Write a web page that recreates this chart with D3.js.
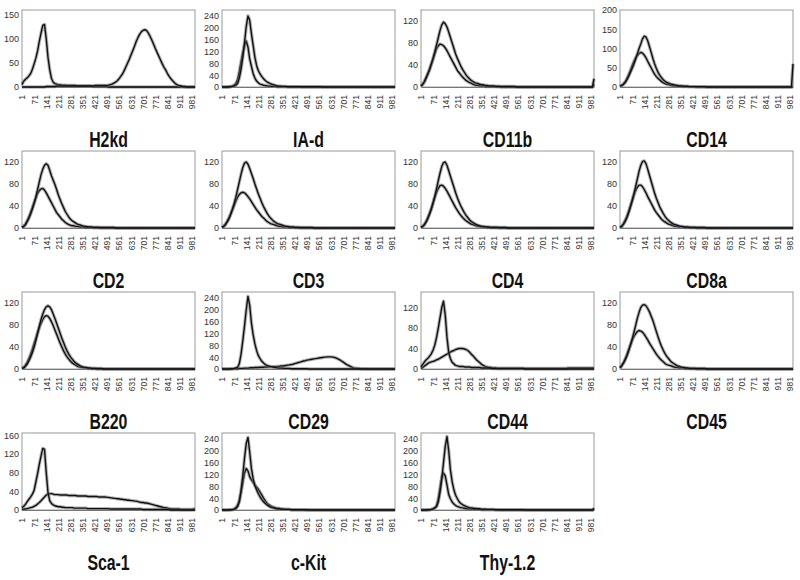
<!DOCTYPE html>
<html><head><meta charset="utf-8">
<script src="https://cdn.jsdelivr.net/npm/d3@7"></script>
<style>body{margin:0;background:#fff}</style>
</head><body><svg id="c" width="800" height="580"></svg>
<script>
const channels = [1,11,21,31,41,51,61,71,81,91,101,111,121,131,141,151,161,171,181,191,201,211,221,231,241,251,261,271,281,291,301,311,321,331,341,351,361,371,381,391,401,411,421,431,441,451,461,471,481,491,501,511,521,531,541,551,561,571,581,591,601,611,621,631,641,651,661,671,681,691,701,711,721,731,741,751,761,771,781,791,801,811,821,831,841,851,861,871,881,891,901,911,921,931,941,951,961,971,981,991,1000];
const xTickValues = [1,71,141,211,281,351,421,491,561,631,701,771,841,911,981];
const panelNames = ["H2kd","IA-d","CD11b","CD14","CD2","CD3","CD4","CD8a","B220","CD29","CD44","CD45","Sca-1","c-Kit","Thy-1.2"];
const yMaxes = [160,260,140,200,140,140,140,140,140,260,150,140,165,260,260];
const yTickSets = [
  [0,50,100,150],[0,40,80,120,160,200,240],[0,40,80,120],[0,50,100,150,200],
  [0,40,80,120],[0,40,80,120],[0,40,80,120],[0,40,80,120],
  [0,40,80,120],[0,40,80,120,160,200,240],[0,40,80,120],[0,40,80,120],
  [0,40,80,120,160],[0,40,80,120,160,200,240],[0,40,80,120,160,200,240]
];

const h2kdNeg = [5,12,16,19,23,28,37,48,60,75, 95,112,128,130,100,62,36,18,10,7, 6,5,5,4,4,4,3,3,3,3, 3,3,2,2,2,2,2,2,2,2, 2,1,1,1,1,1,1,1,1,1, 0,0,0,0,0,0,0,0,0,0, 0,0,0,0,0,0,0,0,0,0, 0,0,0,0,0,0,0,0,0,0, 0,0,0,0,0,0,0,0,0,0, 0,0,0,0,0,0,0,0,0,0, 0];
const h2kdPos = [0,0,0,0,0,0,0,0,0,0, 0,0,0,0,1,1,1,1,1,1, 2,2,2,2,2,2,2,2,2,2, 2,2,2,2,2,2,2,2,2,2, 2,2,3,3,3,3,3,3,3,3, 4,5,6,8,10,13,17,22,27,34, 42,50,58,67,76,85,95,103,110,115, 118,119,117,112,105,97,89,80,72,64, 56,48,41,35,28,22,17,13,9,6, 4,3,2,1,1,0,0,0,0,0, 0];
const iadTall = [0,0,0,0,1,1,2,3,6,12, 30,60,100,150,205,240,225,180,140,100, 72,55,44,35,28,22,17,14,11,9, 7,5,4,3,3,2,2,2,1,1, 1,1,1,1,1,1,1,1,1,1, 1,1,1,1,1,1,1,1,0,0, 0,0,0,0,0,0,0,0,0,0, 0,0,0,0,0,0,0,0,0,0, 0,0,0,0,0,0,0,0,0,0, 0,0,0,0,0,0,0,0,0,0, 0];
const iadShort = [0,0,0,0,1,2,3,6,12,25, 52,85,115,140,155,135,95,70,45,30, 20,14,10,8,6,5,4,3,3,2, 2,2,1,1,1,1,1,1,1,1, 1,1,1,1,1,1,0,0,0,0, 0,0,0,0,0,0,0,0,0,0, 0,0,0,0,0,0,0,0,0,0, 0,0,0,0,0,0,0,0,0,0, 0,0,0,0,0,0,0,0,0,0, 0,0,0,0,0,0,0,0,0,0, 0];
const cd11bTall = [2,5,10,17,24,32,42,52,64,77, 90,103,113,118,115,109,100,90,80,70, 60,52,45,38,32,27,22,18,15,12, 10,8,7,6,5,4,4,3,3,2, 2,2,2,1,1,1,1,1,1,1, 1,1,1,1,1,0,0,0,0,0, 0,0,0,0,0,0,0,0,0,0, 0,0,0,0,0,0,0,0,0,0, 0,0,0,0,0,0,0,0,0,0, 0,0,0,0,0,0,0,0,0,0, 15];
const cd11bShort = [2,5,10,17,25,33,42,52,61,70, 75,78,77,75,71,66,60,54,48,42, 36,30,26,22,18,15,12,10,8,7, 5,4,3,3,2,2,2,1,1,1, 1,1,1,1,1,1,0,0,0,0, 0,0,0,0,0,0,0,0,0,0, 0,0,0,0,0,0,0,0,0,0, 0,0,0,0,0,0,0,0,0,0, 0,0,0,0,0,0,0,0,0,0, 0,0,0,0,0,0,0,0,0,0, 5];
const cd14Tall = [2,4,7,12,19,28,38,48,59,72, 86,100,112,125,132,130,120,105,90,74, 60,48,38,30,24,19,15,12,10,8, 7,6,5,4,3,3,3,2,2,2, 1,1,1,1,1,1,1,1,1,1, 0,0,0,0,0,0,0,0,0,0, 0,0,0,0,0,0,0,0,0,0, 0,0,0,0,0,0,0,0,0,0, 0,0,0,0,0,0,0,0,0,0, 0,0,0,0,0,0,0,0,0,0, 60];
const cd14Short = [2,4,8,13,22,32,43,55,66,75, 82,87,90,88,83,76,67,58,50,41, 33,27,22,18,14,11,9,7,6,5, 4,3,3,2,2,2,1,1,1,1, 1,1,1,1,0,0,0,0,0,0, 0,0,0,0,0,0,0,0,0,0, 0,0,0,0,0,0,0,0,0,0, 0,0,0,0,0,0,0,0,0,0, 0,0,0,0,0,0,0,0,0,0, 0,0,0,0,0,0,0,0,0,0, 0];
const cd2Tall = [1,3,6,12,18,26,35,45,56,70, 84,97,107,114,117,114,105,95,87,79, 70,60,52,44,37,30,25,20,16,13, 11,9,7,6,5,4,3,3,2,2, 2,1,1,1,1,1,1,1,1,1, 1,1,1,1,0,0,0,0,0,0, 0,0,0,0,0,0,0,0,0,0, 0,0,0,0,0,0,0,0,0,0, 0,0,0,0,0,0,0,0,0,0, 0,0,0,0,0,0,0,0,0,0, 0];
const cd2Short = [1,3,7,13,20,28,37,46,55,63, 68,71,72,69,64,58,52,46,40,34, 28,24,20,16,13,10,8,6,5,4, 4,3,3,2,2,2,1,1,1,1, 1,1,1,1,1,0,0,0,0,0, 0,0,0,0,0,0,0,0,0,0, 0,0,0,0,0,0,0,0,0,0, 0,0,0,0,0,0,0,0,0,0, 0,0,0,0,0,0,0,0,0,0, 0,0,0,0,0,0,0,0,0,0, 0];
const cd3Tall = [1,3,6,11,17,25,34,44,56,70, 84,98,110,118,120,116,108,99,90,80, 71,62,54,46,39,33,27,22,18,15, 12,10,8,7,6,5,4,3,3,2, 2,2,1,1,1,1,1,1,1,1, 1,1,1,0,0,0,0,0,0,0, 0,0,0,0,0,0,0,0,0,0, 0,0,0,0,0,0,0,0,0,0, 0,0,0,0,0,0,0,0,0,0, 0,0,0,0,0,0,0,0,0,0, 0];
const cd3Short = [1,3,7,12,18,25,33,41,49,56, 61,64,65,64,61,57,53,48,43,38, 33,29,25,21,18,15,12,10,8,7, 6,5,4,3,3,2,2,2,1,1, 1,1,1,1,1,0,0,0,0,0, 0,0,0,0,0,0,0,0,0,0, 0,0,0,0,0,0,0,0,0,0, 0,0,0,0,0,0,0,0,0,0, 0,0,0,0,0,0,0,0,0,0, 0,0,0,0,0,0,0,0,0,0, 0];
const cd4Tall = [1,3,6,11,18,26,35,46,58,72, 86,100,112,119,120,114,104,94,84,74, 64,55,47,40,34,28,23,19,15,12, 10,8,6,5,4,3,3,2,2,2, 1,1,1,1,1,1,1,1,1,1, 0,0,0,0,0,0,0,0,0,0, 0,0,0,0,0,0,0,0,0,0, 0,0,0,0,0,0,0,0,0,0, 0,0,0,0,0,0,0,0,0,0, 0,0,0,0,0,0,0,0,0,0, 0];
const cd4Short = [1,3,7,12,19,27,36,46,56,65, 72,77,78,76,72,67,61,55,49,43, 37,32,27,23,19,16,13,11,9,7, 6,5,4,3,3,2,2,2,1,1, 1,1,1,1,1,0,0,0,0,0, 0,0,0,0,0,0,0,0,0,0, 0,0,0,0,0,0,0,0,0,0, 0,0,0,0,0,0,0,0,0,0, 0,0,0,0,0,0,0,0,0,0, 0,0,0,0,0,0,0,0,0,0, 0];
const cd8aTall = [1,3,7,12,19,28,38,49,61,75, 89,103,114,121,122,117,107,96,85,74, 63,54,46,38,32,26,21,17,14,11, 9,7,6,5,4,3,3,2,2,2, 1,1,1,1,1,1,1,1,1,1, 0,0,0,0,0,0,0,0,0,0, 0,0,0,0,0,0,0,0,0,0, 0,0,0,0,0,0,0,0,0,0, 0,0,0,0,0,0,0,0,0,0, 0,0,0,0,0,0,0,0,0,0, 0];
const cd8aShort = [1,3,8,14,21,30,40,50,60,68, 74,78,78,75,70,64,57,51,45,39, 33,28,24,20,16,13,11,9,7,6, 5,4,3,3,2,2,2,1,1,1, 1,1,1,1,0,0,0,0,0,0, 0,0,0,0,0,0,0,0,0,0, 0,0,0,0,0,0,0,0,0,0, 0,0,0,0,0,0,0,0,0,0, 0,0,0,0,0,0,0,0,0,0, 0,0,0,0,0,0,0,0,0,0, 0];
const b220Tall = [1,2,5,9,15,22,30,40,52,65, 78,90,100,108,113,115,113,108,100,92, 83,74,65,56,48,40,33,27,22,18, 14,11,9,7,5,4,3,3,2,2, 1,1,1,1,1,1,1,0,0,0, 0,0,0,0,0,0,0,0,0,0, 0,0,0,0,0,0,0,0,0,0, 0,0,0,0,0,0,0,0,0,0, 0,0,0,0,0,0,0,0,0,0, 0,0,0,0,0,0,0,0,0,0, 0];
const b220Short = [1,3,7,12,19,27,36,46,56,66, 75,83,90,95,97,96,92,86,79,71, 63,55,47,40,33,27,22,18,14,11, 9,7,5,4,3,3,2,2,1,1, 1,1,1,0,0,0,0,0,0,0, 0,0,0,0,0,0,0,0,0,0, 0,0,0,0,0,0,0,0,0,0, 0,0,0,0,0,0,0,0,0,0, 0,0,0,0,0,0,0,0,0,0, 0,0,0,0,0,0,0,0,0,0, 0];
const cd29Neg = [0,0,0,0,0,1,1,2,4,6, 18,50,95,145,200,245,215,155,115,85, 62,45,35,26,20,15,12,10,8,7, 6,5,4,3,3,3,2,2,2,2, 1,1,1,1,1,1,1,1,1,1, 0,0,0,0,0,0,0,0,0,0, 0,0,0,0,0,0,0,0,0,0, 0,0,0,0,0,0,0,0,0,0, 0,0,0,0,0,0,0,0,0,0, 0,0,0,0,0,0,0,0,0,0, 0];
const cd29Pos = [0,0,0,0,0,0,1,1,1,1, 2,2,2,3,3,3,4,4,4,5, 5,5,6,6,6,7,7,7,8,8, 8,8,9,9,10,10,11,12,13,14, 15,16,18,20,22,23,25,27,28,30, 31,32,33,34,35,36,37,38,39,40, 40,41,41,41,40,39,37,34,31,27, 23,19,15,12,9,6,4,3,2,2, 1,1,1,1,0,0,0,0,0,0, 0,0,0,0,0,0,0,0,0,0, 0];
const cd44Neg = [4,9,14,18,21,25,30,37,47,62, 80,100,120,132,105,62,32,20,13,10, 7,6,5,5,5,4,4,4,4,3, 3,3,3,3,3,2,2,2,2,2, 2,1,1,1,1,1,1,1,1,1, 1,1,1,1,1,1,1,1,1,1, 0,0,0,0,0,0,0,0,0,0, 0,0,0,0,0,0,0,0,0,0, 0,0,0,0,0,0,0,0,0,0, 0,0,0,0,0,0,0,0,0,0, 0];
const cd44Pos = [1,3,6,8,11,13,14,15,16,18, 19,21,23,25,27,29,31,33,35,36, 38,39,40,40,40,39,38,36,33,29, 26,22,18,15,12,9,7,5,4,3, 3,2,2,2,1,1,1,1,1,1, 1,1,1,1,1,1,1,1,1,1, 1,1,1,1,1,1,1,1,1,1, 1,1,1,1,1,1,1,1,1,1, 1,1,1,1,1,2,2,2,2,2, 2,2,2,2,2,2,2,2,2,2, 2];
const cd45Tall = [2,6,11,17,24,33,43,54,66,79, 92,103,112,116,117,115,110,104,96,88, 78,68,58,49,41,34,28,23,19,15, 12,10,8,6,5,4,3,3,2,2, 1,1,1,1,1,1,1,1,1,1, 0,0,0,0,0,0,0,0,0,0, 0,0,0,0,0,0,0,0,0,0, 0,0,0,0,0,0,0,0,0,0, 0,0,0,0,0,0,0,0,0,0, 0,0,0,0,0,0,0,0,0,0, 0];
const cd45Short = [2,6,11,18,26,35,44,52,59,64, 68,70,69,67,63,58,53,47,42,37, 32,27,23,19,16,13,10,8,7,6, 5,4,3,3,2,2,2,1,1,1, 1,1,1,1,0,0,0,0,0,0, 0,0,0,0,0,0,0,0,0,0, 0,0,0,0,0,0,0,0,0,0, 0,0,0,0,0,0,0,0,0,0, 0,0,0,0,0,0,0,0,0,0, 0,0,0,0,0,0,0,0,0,0, 0];
const sca1Neg = [5,8,12,18,23,28,34,42,60,78, 98,116,132,130,80,38,20,14,11,9, 8,7,7,6,6,5,5,5,5,5, 4,4,4,4,4,4,4,4,3,3, 3,3,3,3,3,3,3,3,3,3, 3,2,2,2,2,2,2,2,2,2, 2,2,2,2,2,2,2,2,2,2, 1,1,1,1,1,1,1,1,1,1, 1,1,1,1,1,1,0,0,0,0, 0,0,0,0,0,0,0,0,0,0, 0];
const sca1Pos = [1,2,2,3,4,5,6,8,10,13, 16,20,24,28,32,34,35,35,34,33, 33,33,32,32,32,32,32,31,31,31, 31,31,30,30,30,30,30,30,29,29, 29,29,29,29,28,28,28,28,28,27, 27,26,26,25,25,24,24,23,23,22, 22,21,21,20,20,19,19,18,17,16, 16,15,15,14,13,12,11,10,9,8, 7,6,5,5,4,3,3,2,2,2, 2,2,1,1,1,1,1,1,1,2, 2];
const ckitTall = [0,0,0,0,0,1,1,2,5,12, 28,65,115,175,225,245,195,140,105,82, 68,55,44,35,28,22,17,13,10,8, 7,5,4,4,3,3,2,2,2,2, 1,1,1,1,1,1,1,1,1,1, 0,0,0,0,0,0,0,0,0,0, 0,0,0,0,0,0,0,0,0,0, 0,0,0,0,0,0,0,0,0,0, 0,0,0,0,0,0,0,0,0,0, 0,0,0,0,0,0,0,0,0,0, 0];
const ckitShort = [0,0,0,0,1,1,2,4,8,16, 32,60,92,125,140,132,112,102,93,84, 77,70,60,50,40,31,23,18,14,11, 9,7,6,5,4,3,3,2,2,2, 1,1,1,1,1,1,1,1,0,0, 0,0,0,0,0,0,0,0,0,0, 0,0,0,0,0,0,0,0,0,0, 0,0,0,0,0,0,0,0,0,0, 0,0,0,0,0,0,0,0,0,0, 0,0,0,0,0,0,0,0,0,0, 0];
const thyTall = [0,0,0,0,1,1,2,4,7,12, 28,60,105,160,215,248,200,135,95,68, 50,38,28,22,18,15,12,10,8,7, 6,5,5,4,4,3,3,3,2,2, 2,2,2,1,1,1,1,1,1,1, 1,1,1,1,1,1,1,1,1,1, 0,0,0,0,0,0,0,0,0,0, 0,0,0,0,0,0,0,0,0,0, 0,0,0,0,0,0,0,0,0,0, 0,0,0,0,0,0,0,0,0,0, 6];
const thyShort = [0,0,0,0,1,1,2,4,8,14, 38,75,110,125,115,85,52,38,27,20, 15,12,10,8,7,6,5,4,4,3, 3,2,2,2,2,1,1,1,1,1, 1,1,1,1,1,1,0,0,0,0, 0,0,0,0,0,0,0,0,0,0, 0,0,0,0,0,0,0,0,0,0, 0,0,0,0,0,0,0,0,0,0, 0,0,0,0,0,0,0,0,0,0, 0,0,0,0,0,0,0,0,0,0, 0];

const panelSeries = [
  [h2kdNeg,h2kdPos],[iadShort,iadTall],[cd11bShort,cd11bTall],[cd14Short,cd14Tall],
  [cd2Short,cd2Tall],[cd3Short,cd3Tall],[cd4Short,cd4Tall],[cd8aShort,cd8aTall],
  [b220Short,b220Tall],[cd29Pos,cd29Neg],[cd44Pos,cd44Neg],[cd45Short,cd45Tall],
  [sca1Pos,sca1Neg],[ckitShort,ckitTall],[thyShort,thyTall]
];

const colLeft = [22, 222, 421, 620];
const rowZero = [87, 228, 369, 510];
const plotW = 173, plotH = 77;

const svg = d3.select("#c");
svg.append("rect").attr("width",800).attr("height",580).attr("fill","#fff");

panelNames.forEach((name, i) => {
  const col = i % 4, row = Math.floor(i / 4);
  const left = colLeft[col], zero = rowZero[row], top = zero - plotH;
  const x = d3.scaleLinear().domain([1, 1000]).range([left, left + plotW]);
  const y = d3.scaleLinear().domain([0, yMaxes[i]]).range([zero, top]);
  const g = svg.append("g");

  g.append("rect").attr("x", left).attr("y", top).attr("width", plotW).attr("height", plotH)
    .attr("fill", "none").attr("stroke", "#9a9a9a").attr("stroke-width", 1);

  const yAxis = g.append("g").attr("transform", `translate(${left},0)`)
    .call(d3.axisLeft(y).tickValues(yTickSets[i]).tickSize(0).tickPadding(3));
  yAxis.select(".domain").remove();
  yAxis.selectAll("text").attr("font-family", "'Liberation Sans', Arial, sans-serif")
    .attr("font-size", 9).attr("fill", "#333");

  const xAxis = g.append("g").attr("transform", `translate(0,${zero})`)
    .call(d3.axisBottom(x).tickValues(xTickValues).tickSize(0).tickFormat(d3.format("d")));
  xAxis.select(".domain").attr("stroke", "#777");
  xAxis.selectAll("text")
    .attr("font-family", "'Liberation Sans', Arial, sans-serif")
    .attr("font-size", 8.5).attr("fill", "#333")
    .attr("text-anchor", "end").attr("dy", "0.35em").attr("y", 0)
    .attr("transform", "translate(0,8) rotate(-90)");

  const line = d3.line().x((d, k) => x(channels[k])).y(d => y(d));
  panelSeries[i].forEach(s => {
    g.append("path").datum(s).attr("d", line).attr("fill", "none")
      .attr("stroke", "#777").attr("stroke-opacity", 0.55).attr("stroke-width", 3.4)
      .attr("stroke-linejoin", "round");
    g.append("path").datum(s).attr("d", line).attr("fill", "none")
      .attr("stroke", "#111").attr("stroke-width", 1.4).attr("stroke-linejoin", "round");
  });

  g.append("text")
    .attr("transform", `translate(${left + plotW / 2},${zero + 60}) scale(0.72,1)`)
    .attr("text-anchor", "middle")
    .attr("font-family", "'Liberation Sans', Arial, sans-serif")
    .attr("font-weight", "bold").attr("font-size", 22).attr("fill", "#111")
    .text(name);
});
</script></body></html>
